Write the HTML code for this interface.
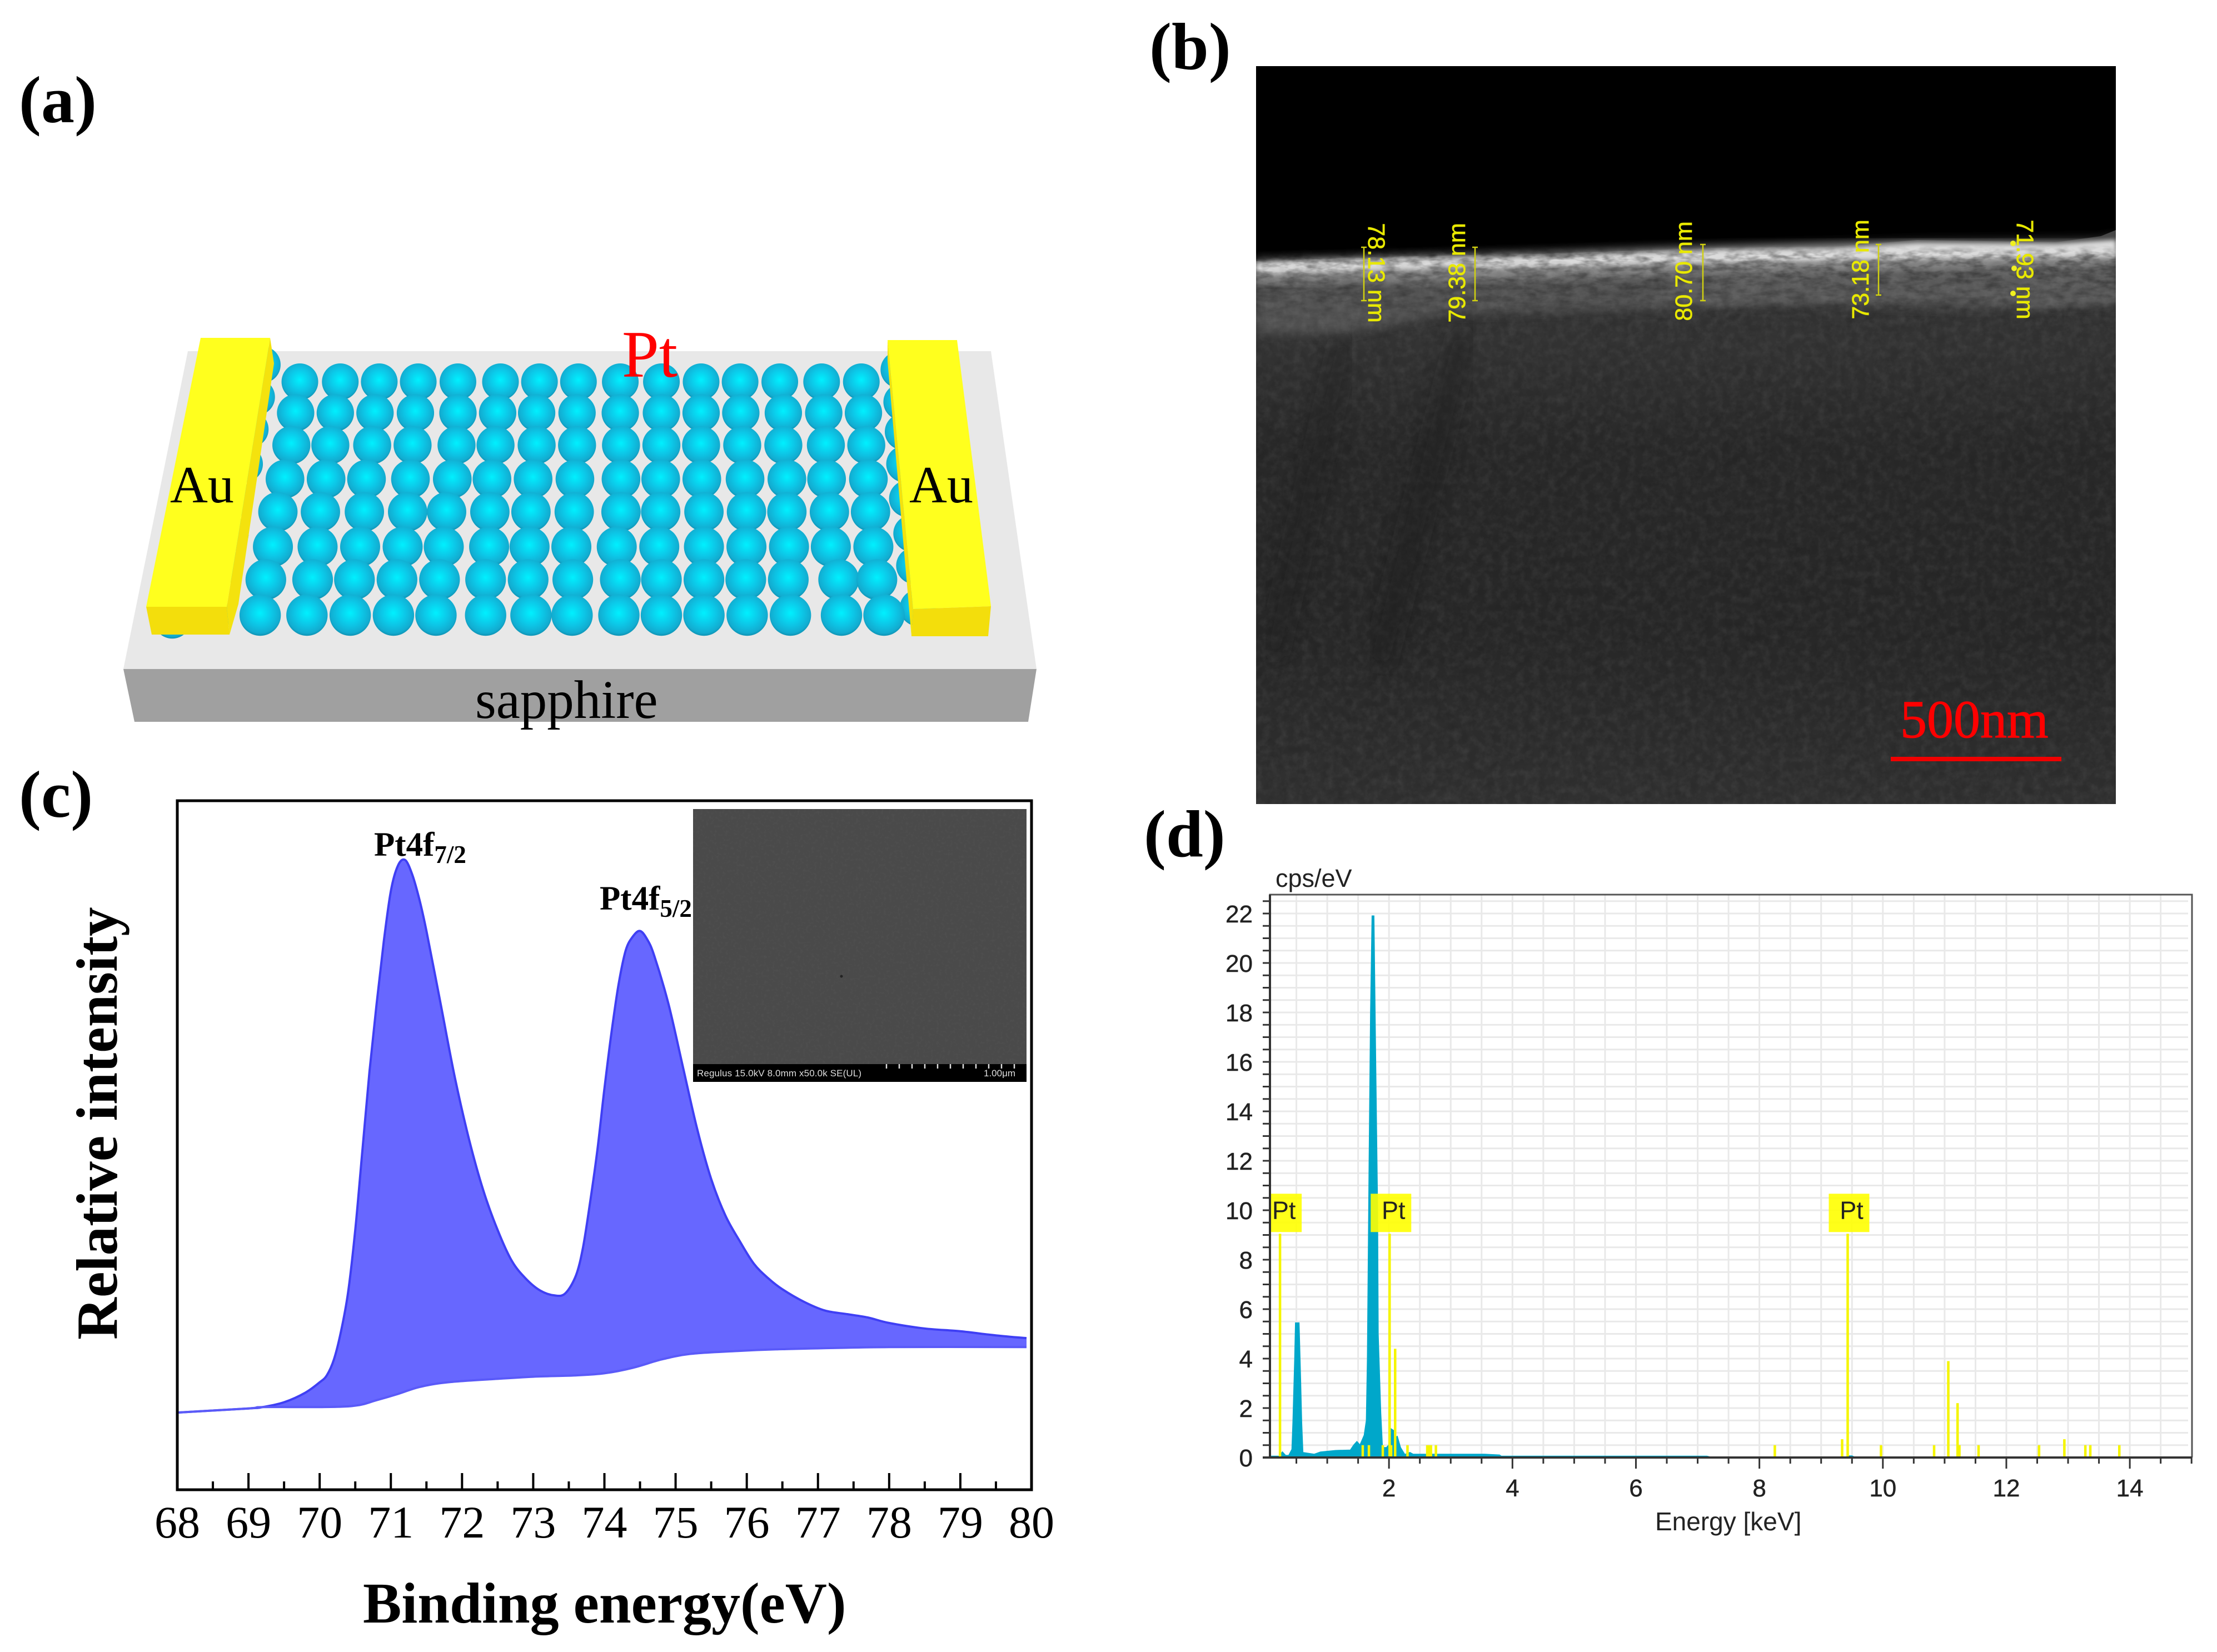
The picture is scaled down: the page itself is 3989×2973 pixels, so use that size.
<!DOCTYPE html>
<html lang="en">
<head>
<meta charset="utf-8">
<title>Pt thin film characterisation figure</title>
<style>
html,body{margin:0;padding:0;background:#fff;}
svg{display:block;}
.serif{font-family:"Liberation Serif","Times New Roman",serif;}
.sans{font-family:"Liberation Sans",Arial,sans-serif;}
.bold{font-weight:bold;}
</style>
</head>
<body>
<svg id="figure" xmlns="http://www.w3.org/2000/svg" width="3989" height="2973" viewBox="0 0 3989 2973">
<defs>
  <radialGradient id="ballGrad" cx="0.5" cy="0.45" r="0.62">
    <stop offset="0" stop-color="#00f0ff"/>
    <stop offset="0.45" stop-color="#0cc8e8"/>
    <stop offset="0.78" stop-color="#12acd0"/>
    <stop offset="1" stop-color="#0a7896"/>
  </radialGradient>
  <linearGradient id="semBody" x1="0" y1="0" x2="0" y2="1">
    <stop offset="0" stop-color="#444444"/>
    <stop offset="0.12" stop-color="#383838"/>
    <stop offset="0.38" stop-color="#292929"/>
    <stop offset="0.7" stop-color="#282828"/>
    <stop offset="1" stop-color="#313131"/>
  </linearGradient>
  <linearGradient id="bandFade" x1="0" y1="0" x2="0" y2="1">
    <stop offset="0" stop-color="#000"/>
    <stop offset="0.12" stop-color="#fff"/>
    <stop offset="0.45" stop-color="#999"/>
    <stop offset="1" stop-color="#000"/>
  </linearGradient>
  <mask id="bandMask" maskUnits="userSpaceOnUse" x="2260" y="440" width="1547" height="170">
    <rect x="2260" y="440" width="1547" height="170" fill="url(#bandFade)"/>
  </mask>
  <filter id="grain" x="0" y="0" width="100%" height="100%">
    <feTurbulence type="fractalNoise" baseFrequency="0.07" numOctaves="3" seed="4"/>
    <feColorMatrix values="0 0 0 0 1  0 0 0 0 1  0 0 0 0 1  1.6 0 0 0 -0.62"/>
  </filter>
  <filter id="grainDark" x="0" y="0" width="100%" height="100%">
    <feTurbulence type="fractalNoise" baseFrequency="0.05" numOctaves="2" seed="9"/>
    <feColorMatrix values="0 0 0 0 0  0 0 0 0 0  0 0 0 0 0  0 1.6 0 0 -0.62"/>
  </filter>
  <filter id="bandGrain" x="0" y="0" width="100%" height="100%">
    <feTurbulence type="fractalNoise" baseFrequency="0.035 0.09" numOctaves="3" seed="12"/>
    <feColorMatrix values="0 0 0 0 0  0 0 0 0 0  0 0 0 0 0  2.4 0 0 0 -0.9"/>
  </filter>
  <filter id="insetGrain" x="0" y="0" width="100%" height="100%">
    <feTurbulence type="fractalNoise" baseFrequency="0.2" numOctaves="2" seed="3"/>
    <feColorMatrix values="0 0 0 0 1  0 0 0 0 1  0 0 0 0 1  1.1 0 0 0 -0.5"/>
  </filter>
  <filter id="blur4"><feGaussianBlur stdDeviation="4"/></filter>
  <filter id="blur9"><feGaussianBlur stdDeviation="9"/></filter>
  <filter id="blur18"><feGaussianBlur stdDeviation="18"/></filter>
  <clipPath id="semClip"><rect x="2260" y="119" width="1547" height="1328"/></clipPath>
</defs>

<!-- Panel (a) -->
<g id="panel-a">
  <polygon points="338,632 1783,632 1865,1204 222,1204" fill="#e8e8e8"/>
  <polygon points="222,1204 1865,1204 1850,1299 242,1299" fill="#a0a0a0"/>
  <g id="balls"></g>
  <g>
    <polygon points="486,608 493,654 429,1087 413,1142 408,1092" fill="#f4e20e"/>
    <polygon points="263,1092 408,1092 413,1142 273,1142" fill="#f3de0c"/>
    <polygon points="361,608 486,608 408,1092 263,1092" fill="#ffff1e"/>
  </g>
  <g>
    <polygon points="1597,612 1597,650 1640,1145 1643,1096" fill="#f4e20e"/>
    <polygon points="1643,1096 1783,1091 1778,1145 1640,1145" fill="#f3de0c"/>
    <polygon points="1597,612 1722,612 1783,1091 1643,1096" fill="#ffff1e"/>
  </g>
  <text class="serif bold" x="34" y="220" font-size="120">(a)</text>
  <text class="serif" x="1119" y="678" font-size="120" fill="#ff0000">Pt</text>
  <text class="serif" x="306" y="904" font-size="94">Au</text>
  <text class="serif" x="1636" y="904" font-size="94">Au</text>
  <text class="serif" x="855" y="1292" font-size="97">sapphire</text>
</g>

<!-- Panel (b) -->
<g id="panel-b">
  <text class="serif bold" x="2068" y="124" font-size="120">(b)</text>
  <g clip-path="url(#semClip)">
    <rect x="2260" y="119" width="1547" height="1328" fill="#000"/>
    <path d="M2260 470 L2500 462 L2800 456 L3100 446 L3300 444 L3450 432 L3700 436 L3780 425 L3807 414 V1447 H2260 Z" fill="url(#semBody)"/>
    <path d="M2260 600 L2420 600 L2600 565 L3000 555 L3200 545 L3600 555 L3807 548 V425 L3780 432 L3450 436 L3100 446 L2800 456 L2260 470 Z" fill="#555555" filter="url(#blur9)"/>
    <path d="M2260 510 L2600 505 L3000 495 L3300 490 L3807 480 V440 L3450 436 L3100 446 L2800 456 L2260 470 Z" fill="#8a8a8a" filter="url(#blur9)"/>
    <path d="M2260 473 L2500 466 L2800 462 L3100 450 L3300 448 L3450 438 L3700 440 L3807 432 V462 L3450 466 L3100 472 L2800 480 L2500 486 L2260 494 Z" fill="#dcdcdc" filter="url(#blur4)"/>
    <path d="M3000 540 L3080 552 L3300 545 L3620 540 L3650 556 L3807 545 V490 L3000 500 Z" fill="#666" opacity="0.5" filter="url(#blur4)"/>
    <g mask="url(#bandMask)"><rect x="2260" y="440" width="1547" height="170" fill="#000" filter="url(#bandGrain)" opacity="0.42"/></g>
    <rect x="2260" y="470" width="1547" height="977" fill="#fff" filter="url(#grain)" opacity="0.07"/>
    <rect x="2260" y="470" width="1547" height="977" fill="#000" filter="url(#grainDark)" opacity="0.12"/>
    <path d="M2420 610 L2290 1180" stroke="#1d1d1d" stroke-width="28" fill="none" opacity="0.55" filter="url(#blur18)"/>
    <path d="M2635 600 L2480 1200" stroke="#1b1b1b" stroke-width="34" fill="none" opacity="0.6" filter="url(#blur18)"/>
  </g>
  <g stroke="#d0d010" stroke-width="2.5" fill="none">
    <path d="M2449 445 H2459 M2454 445 V541 M2449 541 H2459"/>
    <path d="M2649 445 H2659 M2654 445 V541 M2649 541 H2659"/>
    <path d="M3059 440 H3069 M3064 440 V541 M3059 541 H3069"/>
    <path d="M3375 440 H3385 M3380 440 V531 M3375 531 H3385"/>
  </g>
  <g fill="#f0f020">
    <circle cx="3622" cy="438" r="5"/><circle cx="3624" cy="483" r="5"/><circle cx="3622" cy="528" r="5"/>
  </g>
  <g class="sans" font-size="43" fill="#e8e800" stroke="#e8e800" stroke-width="0.7" text-anchor="middle">
    <text transform="translate(2476,491) rotate(90)" dominant-baseline="central">78.13 nm</text>
    <text transform="translate(2622,491) rotate(-90)" dominant-baseline="central">79.38 nm</text>
    <text transform="translate(3030,488) rotate(-90)" dominant-baseline="central">80.70 nm</text>
    <text transform="translate(3348,485) rotate(-90)" dominant-baseline="central">73.18 nm</text>
    <text transform="translate(3643,485) rotate(90)" dominant-baseline="central">71.93 nm</text>
  </g>
  <text class="serif" x="3419" y="1327" font-size="96" fill="#ff0000" stroke="#ff0000" stroke-width="1">500nm</text>
  <rect x="3402" y="1362" width="307" height="8" fill="#f00000"/>
</g>

<!-- Panel (c) -->
<g id="panel-c">
  <text class="serif bold" x="34" y="1470" font-size="120">(c)</text>
  <g id="c-series"></g>
  <g id="c-ticks"></g>
  <rect x="319" y="1441" width="1537" height="1240" fill="none" stroke="#000" stroke-width="5"/>
  <g>
    <rect x="1247" y="1456" width="600" height="491" fill="#4a4a4a"/>
    <rect x="1247" y="1456" width="600" height="459" fill="#fff" filter="url(#insetGrain)" opacity="0.06"/>
    <circle cx="1514" cy="1757" r="2.5" fill="#222"/>
    <rect x="1247" y="1915" width="600" height="32" fill="#000"/>
    <path id="inset-scale-ticks" d="M1595 1915v8M1618 1915v8M1641 1915v8M1664 1915v8M1687 1915v8M1710 1915v8M1733 1915v8M1756 1915v8M1779 1915v8M1802 1915v8M1825 1915v8" stroke="#ddd" stroke-width="2.5"/>
    <text class="sans" x="1254" y="1937" font-size="17" fill="#ddd" textLength="296">Regulus 15.0kV 8.0mm x50.0k SE(UL)</text>
    <text class="sans" x="1770" y="1937" font-size="17" fill="#ddd">1.00μm</text>
  </g>
  <text class="serif bold" x="673" y="1540" font-size="61">Pt4f<tspan font-size="45" dy="13">7/2</tspan></text>
  <text class="serif bold" x="1079" y="1637" font-size="61">Pt4f<tspan font-size="45" dy="13">5/2</tspan></text>
  <text class="serif bold" x="653" y="2920" font-size="104">Binding energy(eV)</text>
  <text class="serif bold" transform="translate(210,2411) rotate(-90)" font-size="105">Relative intensity</text>
</g>

<!-- Panel (d) -->
<g id="panel-d">
  <text class="serif bold" x="2058" y="1541" font-size="120">(d)</text>
  <text class="sans" x="2295" y="1596" font-size="45" fill="#222">cps/eV</text>
  <g id="d-grid"></g>
  <g id="d-teal"></g>
  <g id="d-lines"></g>
  <g id="d-axes"></g>
  <text class="sans" x="2978" y="2754" font-size="46" fill="#222">Energy [keV]</text>
</g>

<script>
/* ---------- Panel (c): XPS data ---------- */
var xpsTickLabels = [68,69,70,71,72,73,74,75,76,77,78,79,80];
var xpsEnergy = [68,69,69.2,69.5,69.8,70,70.1,70.2,70.3,70.4,70.5,70.6,70.7,70.8,70.9,71,71.1,71.2,71.3,71.4,71.5,71.7,71.9,72.1,72.3,72.5,72.7,72.9,73.1,73.3,73.45,73.6,73.7,73.8,73.9,74,74.1,74.2,74.3,74.4,74.5,74.6,74.7,74.9,75.1,75.3,75.5,75.7,75.9,76.1,76.3,76.5,76.8,77.1,77.4,77.7,78,78.5,79,79.5,79.93];
var xpsIntensity = [11.2,11.8,12.0,12.7,14.1,15.6,16.6,18.9,23.0,28.7,37.7,49.2,60.7,70.5,79.5,86.9,90.6,91.4,89.3,85.7,81.1,70.5,59.8,50.8,43.4,37.7,33.2,30.6,28.9,28.2,28.5,31.1,35.2,41.8,49.2,58.2,66.4,73.4,78.3,80.3,81.1,79.9,77.5,70.5,61.5,52.5,45.1,39.8,36.1,32.8,30.7,29.1,27.3,26.0,25.5,25.0,24.2,23.4,23.0,22.4,22.0];
var xpsBackgroundEnergy = [68,69,69.2,70,70.5,70.8,71.1,71.4,71.8,72.5,73,73.6,74,74.4,74.8,75.2,75.8,76.5,78,79.93];
var xpsBackground = [11.2,11.8,12.0,12.0,12.2,13.0,13.9,14.9,15.6,16.1,16.4,16.6,16.9,17.7,18.9,19.7,20.1,20.4,20.7,20.7];

/* ---------- Panel (d): EDS data ---------- */
var edsXTickLabels = [2,4,6,8,10,12,14];
var edsYTickLabels = [0,2,4,6,8,10,12,14,16,18,20,22];
var edsEnergy = [0.1,0.22,0.274,0.325,0.377,0.429,0.446,0.474,0.487,0.542,0.567,0.584,0.604,0.79,0.89,1.135,1.376,1.43,1.48,1.53,1.6,1.635,1.652,1.68,1.703,1.728,1.755,1.783,1.814,1.824,1.865,1.893,1.96,1.996,2.037,2.07,2.1,2.134,2.186,2.255,2.34,2.39,3.55,3.79,3.82,7.15,7.2,7.6,7.65,9.4,9.43,9.5,9.55];
var edsCounts = [0.05,0.05,0.22,0.08,0.08,0.33,1.44,4.0,5.44,5.44,3.15,1.44,0.2,0.13,0.22,0.28,0.3,0.5,0.64,0.5,0.9,1.5,4,12,18,21.9,21.9,16,10,5,1.8,0.4,0.4,0.5,1.15,1.1,0.8,0.85,0.4,0.12,0.2,0.13,0.13,0.1,0.05,0.05,0.02,0.02,0,0,0.06,0.06,0];
var edsLineEnergy = [0.235,2.01,9.43,2.10,1.575,1.675,1.90,2.035,2.30,2.62,2.65,2.68,2.76,8.25,9.34,9.97,10.83,11.06,11.21,11.24,11.55,12.53,12.94,13.28,13.36,13.83];
var edsLineHeight = [9.05,9.05,9.05,4.4,0.5,0.5,0.5,0.5,0.5,0.5,0.5,0.5,0.5,0.5,0.74,0.5,0.5,3.9,2.2,0.5,0.5,0.5,0.74,0.5,0.5,0.5];
var edsPtLabelEnergy = [0.235,2.01,9.43];
var edsPtLabelHeight = 9.05;

/* ---------- Panel (a): schematic layout ---------- */
var ballRowCentreY = [687,743,801,862,921,984,1043,1107];
var ballRows = [
 [423,480,535,590,646,706,761,816,875,933,989,1044,1100,1159,1215],
 [417,473,529,586,646,702,757,814,875,933,989,1045,1105,1162,1218],
 [411,466,525,582,644,699,757,814,876,933,989,1047,1105,1165,1222],
 [402,460,517,579,638,694,752,811,876,932,990,1051,1110,1166,1225],
 [392,452,514,575,630,691,749,810,876,932,993,1053,1110,1170,1228],
 [385,448,508,568,626,690,747,806,870,930,993,1053,1113,1172,1232],
 [375,441,500,560,620,685,745,808,875,933,993,1052,1112,1183,1237],
 [367,433,494,555,615,685,749,807,873,933,993,1054,1115,1187,1247]
];
var ballsBehindLeft = [[370,735],[362,800],[353,865],[345,935],[332,1005],[325,1075],[315,1140],[300,1240],[243,1250]];
var ballsBehindRight = [[1268,745],[1272,810],[1274,870],[1276,935],[1280,1005],[1286,1075],[1290,1140],[1295,1225]];

var NS = 'http://www.w3.org/2000/svg';
function mk(tag, attrs, parent) {
  var el = document.createElementNS(NS, tag);
  for (var k in attrs) { el.setAttribute(k, attrs[k]); }
  parent.appendChild(el);
  return el;
}

/* Catmull-Rom through points, returned as cubic segments */
function smoothSegments(pts) {
  var out = '';
  for (var i = 0; i < pts.length - 1; i++) {
    var p0 = pts[Math.max(i - 1, 0)], p1 = pts[i], p2 = pts[i + 1], p3 = pts[Math.min(i + 2, pts.length - 1)];
    var c1x = p1[0] + (p2[0] - p0[0]) / 6, c1y = p1[1] + (p2[1] - p0[1]) / 6;
    var c2x = p2[0] - (p3[0] - p1[0]) / 6, c2y = p2[1] - (p3[1] - p1[1]) / 6;
    out += ' C' + c1x.toFixed(1) + ' ' + c1y.toFixed(1) + ' ' + c2x.toFixed(1) + ' ' + c2y.toFixed(1) + ' ' + p2[0].toFixed(1) + ' ' + p2[1].toFixed(1);
  }
  return out;
}

/* draw schematic balls */
(function () {
  var group = document.getElementById('balls');
  function ball(zx, cy, r) {
    var el = mk('circle', {cx: zx / 0.784, cy: cy, r: r, fill: 'url(#ballGrad)'}, group);
    
    
  }
  ballsBehindLeft.concat(ballsBehindRight).forEach(function (p) { ball(p[0], p[1] * 0.893, 33); });
  ballRows.forEach(function (row, i) {
    row.forEach(function (zx) { ball(zx, ballRowCentreY[i], 33 + i * 0.6); });
  });
})();

/* Panel (c) axis functions */
function xpsX(e) { return 319 + (e - 68) * (1856 - 319) / 12; }
function xpsY(v) { return 2681 - v * (2681 - 1441) / 100; }

(function () {
  var series = document.getElementById('c-series');
  var upper = xpsEnergy.map(function (e, i) { return [xpsX(e), xpsY(xpsIntensity[i])]; });
  var lower = xpsBackgroundEnergy.map(function (e, i) { return [xpsX(e), xpsY(xpsBackground[i])]; });
  var lowerRev = lower.slice().reverse();
  var start = 'M' + upper[0][0].toFixed(1) + ' ' + upper[0][1].toFixed(1);
  var startBase = 'M' + lower[0][0].toFixed(1) + ' ' + lower[0][1].toFixed(1);
  var upperSeg = smoothSegments(upper);
  var area = mk('path', {d: start + upperSeg + ' L' + lowerRev[0][0].toFixed(1) + ' ' + lowerRev[0][1].toFixed(1) + smoothSegments(lowerRev) + ' Z', fill: '#6767ff', stroke: 'none'}, series);
  
  
  var spectrum = mk('path', {d: start + upperSeg, fill: 'none', stroke: '#3f3ff4', 'stroke-width': 4, 'stroke-linejoin': 'round'}, series);
  
  
  var base = mk('path', {d: startBase + smoothSegments(lower), fill: 'none', stroke: '#5a5af8', 'stroke-width': 4, 'stroke-linejoin': 'round'}, series);
  
  

  var ticks = document.getElementById('c-ticks');
  xpsTickLabels.forEach(function (t, i) {
    var major = mk('line', {x1: xpsX(t), x2: xpsX(t), y1: 2681, y2: 2651, stroke: '#000', 'stroke-width': 4}, ticks);
    
    
    if (i < xpsTickLabels.length - 1) {
      var minor = mk('line', {x1: xpsX(t + 0.5), x2: xpsX(t + 0.5), y1: 2681, y2: 2666, stroke: '#000', 'stroke-width': 4}, ticks);
      
      
    }
    var label = mk('text', {x: xpsX(t), y: 2767, 'font-size': 82, 'text-anchor': 'middle', 'class': 'serif'}, ticks);
    label.textContent = t;
    
    
  });
})();

/* Panel (d) axis functions */
function edsX(e) { return 2277 + e * 111.08; }
function edsY(v) { return 2623 - v * 44.5; }

(function () {
  var grid = document.getElementById('d-grid');
  var axes = document.getElementById('d-axes');
  var L = 2285, R = 3944, T = 1610, B = 2623;
  var v, e;
  for (v = 0.5; v <= 22.5; v += 0.5) {
    var h = mk('line', {x1: L, x2: R - 7, y1: edsY(v), y2: edsY(v), stroke: '#e9e9e9', 'stroke-width': 3}, grid);
    
    
  }
  for (e = 0.5; e < 15; e += 0.5) {
    var g = mk('line', {x1: edsX(e), x2: edsX(e), y1: T, y2: B, stroke: '#e9e9e9', 'stroke-width': 3}, grid);
    
    
  }

  var teal = document.getElementById('d-teal');
  var pts = edsEnergy.map(function (en, i) { return edsX(en).toFixed(1) + ',' + edsY(edsCounts[i]).toFixed(1); });
  pts.unshift(edsX(edsEnergy[0]).toFixed(1) + ',' + edsY(0));
  pts.push(edsX(edsEnergy[edsEnergy.length - 1]).toFixed(1) + ',' + edsY(0));
  var fill = mk('polygon', {points: pts.join(' '), fill: '#00a7ca', stroke: '#00a7ca', 'stroke-width': 2}, teal);
  
  

  var lines = document.getElementById('d-lines');
  edsLineEnergy.forEach(function (en, i) {
    var l = mk('line', {x1: edsX(en), x2: edsX(en), y1: edsY(0), y2: edsY(edsLineHeight[i]), stroke: '#f5f500', 'stroke-width': 4.5}, lines);
    
    
  });
  edsPtLabelEnergy.forEach(function (en) {
    var x0 = Math.max(edsX(en) - 34, L);
    var box = mk('rect', {x: x0, y: edsY(edsPtLabelHeight) - 72, width: edsX(en) + 39 - x0, height: 69, fill: '#ffff00', 'fill-opacity': 0.9}, lines);
    
    
    var txt = mk('text', {x: edsX(en) + 7, y: edsY(edsPtLabelHeight) - 27, 'font-size': 45, 'text-anchor': 'middle', fill: '#222', 'class': 'sans'}, lines);
    txt.textContent = 'Pt';
    
    
  });

  var frame = mk('path', {d: 'M' + L + ' ' + B + ' V' + T + ' H' + R + ' V' + B, fill: 'none', stroke: '#555', 'stroke-width': 3}, axes);
  
  
  var bottom = mk('line', {x1: L - 13, x2: R, y1: B, y2: B, stroke: '#333', 'stroke-width': 4}, axes);
  
  
  var left = mk('line', {x1: L, x2: L, y1: T, y2: B, stroke: '#333', 'stroke-width': 4}, axes);
  
  

  for (v = 0.5; v <= 22.5; v += 0.5) {
    var yt = mk('line', {x1: L - 13, x2: L, y1: edsY(v), y2: edsY(v), stroke: '#333', 'stroke-width': 3}, axes);
    
    
  }
  for (e = 0.5; e <= 15; e += 0.5) {
    var isMajor = edsXTickLabels.indexOf(e) >= 0;
    var xt = mk('line', {x1: edsX(e), x2: edsX(e), y1: B, y2: B + (isMajor ? 20 : 11), stroke: '#333', 'stroke-width': 3}, axes);
    
    
  }
  edsYTickLabels.forEach(function (t) {
    var yl = mk('text', {x: 2254, y: edsY(t) + 16, 'font-size': 44, 'text-anchor': 'end', fill: '#222', stroke: '#222', 'stroke-width': 0.5, 'class': 'sans'}, axes);
    yl.textContent = t;
    
    
  });
  edsXTickLabels.forEach(function (t) {
    var xl = mk('text', {x: edsX(t), y: 2693, 'font-size': 44, 'text-anchor': 'middle', fill: '#222', stroke: '#222', 'stroke-width': 0.5, 'class': 'sans'}, axes);
    xl.textContent = t;
    
    
  });
})();
</script>
</svg>
</body>
</html>
